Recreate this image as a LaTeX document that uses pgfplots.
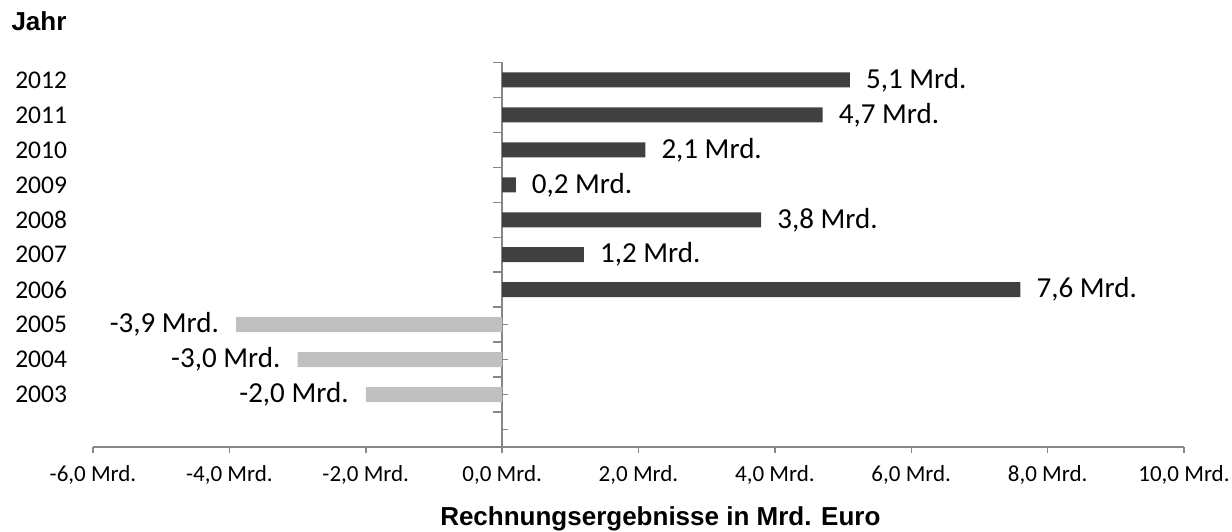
\documentclass[border=0pt]{standalone}
\usepackage{pgfplots}
\pgfplotsset{compat=1.18}
\usepackage{fontspec}
\setmainfont{Carlito}
\newfontfamily\arialfont{Liberation Sans}
\definecolor{darkbar}{HTML}{404040}
\definecolor{lightbar}{HTML}{C0C0C0}
\definecolor{axgray}{HTML}{868686}
\pgfplotstableread{
y v lab
4 7.6 7,6
5 1.2 1,2
6 3.8 3,8
7 0.2 0,2
8 2.1 2,1
9 4.7 4,7
10 5.1 5,1
}\positive
\pgfplotstableread{
y v lab
1 -2.0 -2,0
2 -3.0 -3,0
3 -3.9 -3,9
}\negative
\begin{document}
\begin{tikzpicture}
\useasboundingbox (0,0) rectangle (1232pt,532pt);
\begin{axis}[
  at={(93pt,85pt)}, anchor=south west,
  scale only axis, width=1091pt, height=384.5pt,
  xmin=-6, xmax=10, ymin=-0.5, ymax=10.5,
  axis x line=bottom, axis y line=center,
  axis line style={-, draw=axgray, line width=1.5pt},
  hide obscured x ticks=false, hide obscured y ticks=false,
  /pgf/number format/assume math mode=true,
  xtick={-6,-4,-2,0,2,4,6,8,10},
  xticklabels={{-6,0 Mrd.},{-4,0 Mrd.},{-2,0 Mrd.},{0,0 Mrd.},{2,0 Mrd.},{4,0 Mrd.},{6,0 Mrd.},{8,0 Mrd.},{10,0 Mrd.}},
  xticklabel style={font=\fontsize{23pt}{25pt}\selectfont, anchor=north, inner sep=0pt, yshift=-12pt},
  xtick align=outside,
  ytick align=inside,
  major tick length=6pt,
  tick style={draw=axgray, line width=1.5pt},
  ytick={0,1,2,3,4,5,6,7,8,9,10},
  yticklabels={{},2003,2004,2005,2006,2007,2008,2009,2010,2011,2012},
  yticklabel style={font=\fontsize{25.5pt}{27pt}\selectfont, anchor=west, inner sep=0pt, xshift=-487pt},
  extra y ticks={-0.5,0.5,1.5,2.5,3.5,4.5,5.5,6.5,7.5,8.5,9.5,10.5},
  extra y tick labels={},
  extra y tick style={ytick align=outside, major tick length=9pt},
  xlabel={\arialfont\bfseries Rechnungsergebnisse in Mrd. Euro},
  every axis x label/.style={at={(rel axis cs:0.52,0)}, anchor=base, yshift=-79pt, font=\fontsize{26pt}{28pt}\selectfont},
  ylabel={\arialfont\bfseries Jahr},
  every axis y label/.style={at={(rel axis cs:0,1)}, anchor=base west, xshift=-85pt, yshift=32pt, font=\fontsize{26pt}{28pt}\selectfont},
  clip=false,
]
\addplot[xbar, bar width=15pt, bar shift=0pt, fill=darkbar, draw=none,
  point meta=explicit symbolic,
  nodes near coords={\pgfplotspointmeta~Mrd.},
  nodes near coords style={anchor=west, inner sep=0pt, xshift=16pt, font=\fontsize{29pt}{31pt}\selectfont, text=black}]
  table[x=v, y=y, meta=lab] {\positive};
\addplot[xbar, bar width=15pt, bar shift=0pt, fill=lightbar, draw=none,
  point meta=explicit symbolic,
  nodes near coords={\pgfplotspointmeta~Mrd.},
  nodes near coords style={anchor=east, inner sep=0pt, xshift=-17pt, font=\fontsize{29pt}{31pt}\selectfont, text=black}]
  table[x=v, y=y, meta=lab] {\negative};
\end{axis}
\end{tikzpicture}
\end{document}
